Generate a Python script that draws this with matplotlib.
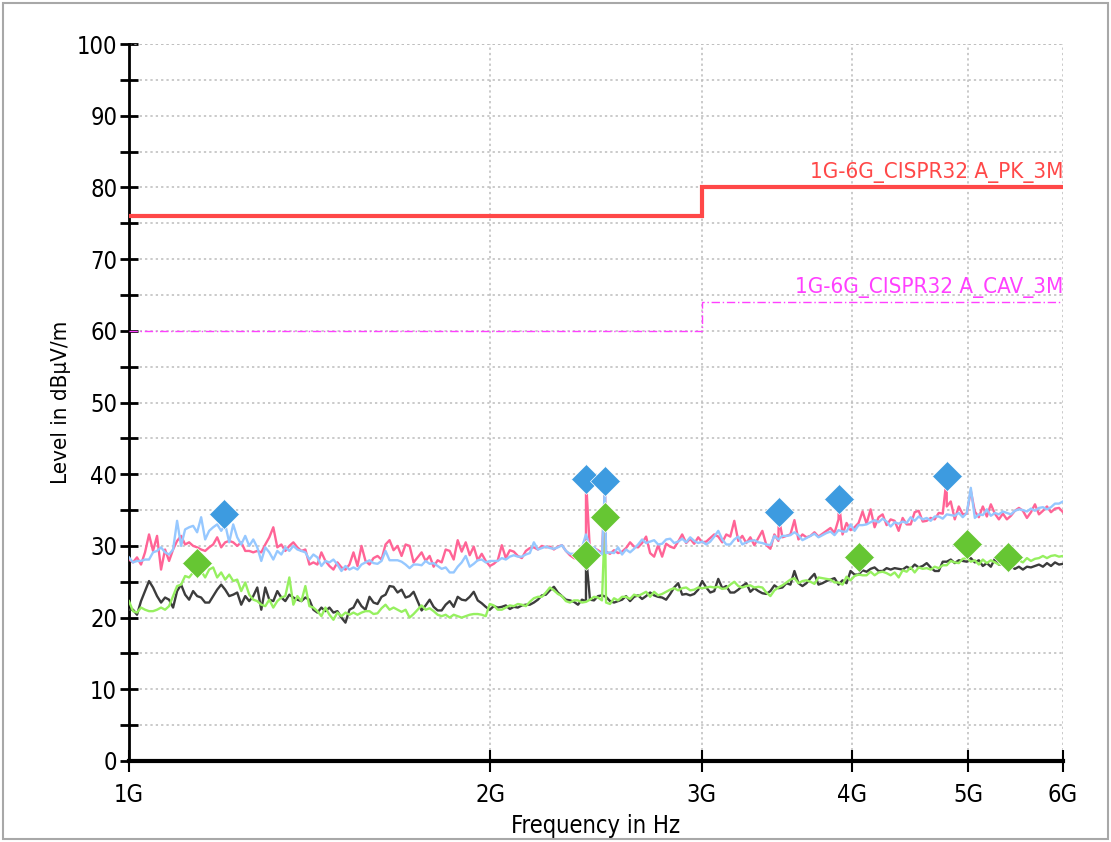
import numpy as np
import matplotlib
matplotlib.use('Agg')
import matplotlib.pyplot as plt
from matplotlib import font_manager
from matplotlib.patches import Rectangle
from matplotlib.ticker import FixedLocator, MultipleLocator, NullLocator

names = {f.name for f in font_manager.fontManager.ttflist}
FONT = 'Liberation Sans Narrow' if 'Liberation Sans Narrow' in names else 'DejaVu Sans'
plt.rcParams['font.family'] = [FONT, 'DejaVu Sans']
plt.rcParams['font.stretch'] = 'condensed'

# sweep points, GHz (log spaced 1..6 GHz)
freq_ghz = np.geomspace(1.0, 6.0, 234)

# peak, vertical (pink)
pk_v = [
    28.1, 27.7, 28.4, 27.4, 29.1, 31.6, 29.3, 31.4, 26.7, 29.5, 27.9, 29.5, 30.7, 31.4, 30.2, 30.5, 30.0, 29.8, 29.5, 29.3,
    29.8, 30.2, 31.2, 29.8, 30.5, 30.7, 30.5, 30.0, 30.5, 29.3, 29.3, 29.1, 29.3, 29.1, 30.2, 31.2, 32.6, 29.8, 30.2, 29.3,
    30.0, 30.5, 29.8, 29.3, 29.5, 27.4, 27.7, 27.4, 29.1, 27.9, 27.2, 26.7, 27.7, 27.0, 26.7, 27.4, 29.1, 27.2, 30.0, 27.9,
    27.4, 28.3, 28.6, 28.1, 30.2, 30.8, 29.4, 30.0, 28.6, 30.2, 30.0, 27.7, 28.4, 29.1, 27.9, 28.6, 27.1, 28.0, 27.7, 29.5,
    29.3, 28.1, 30.8, 29.2, 30.5, 28.7, 29.9, 28.0, 28.9, 27.9, 27.2, 27.5, 28.0, 30.1, 28.3, 29.4, 29.2, 28.6, 28.3, 29.3,
    29.7, 29.8, 29.5, 30.0, 29.8, 29.9, 29.5, 29.9, 30.1, 29.3, 28.7, 28.3, 28.2, 28.6, 29.1, 29.2, 29.7, 29.4,
    29.0, 29.2, 28.9, 29.4, 29.0, 29.2, 29.7, 30.5, 29.9, 29.8, 30.4, 31.3, 29.0, 28.5, 30.1, 28.5, 30.3, 29.9, 29.7, 30.6,
    31.6, 30.4, 31.0, 30.3, 31.2, 30.5, 30.6, 31.1, 31.6, 31.3, 30.5, 31.6, 31.3, 33.5, 30.7, 31.4, 30.4, 31.2, 30.1, 31.1,
    32.1, 30.1, 29.6, 31.6, 30.7, 31.2, 31.4, 31.6, 33.6, 30.9, 31.6, 31.2, 31.4, 31.9, 31.3, 31.7, 32.1, 32.5,
    31.8, 33.7, 31.6, 33.2, 32.2, 32.6, 33.2, 34.8, 33.1, 35.1, 32.6, 34.0, 34.4, 32.9, 33.7, 33.5, 32.1, 33.9, 33.0, 33.0,
    34.7, 34.9, 33.4, 33.5, 33.9, 33.7, 34.6, 34.5, 35.5, 36.2, 33.7, 35.5, 34.4, 34.5, 37.7, 34.8, 34.0, 35.5, 34.1, 35.8,
    34.5, 33.7, 34.5, 33.7, 34.2, 34.9, 35.3, 34.9, 33.9, 34.7, 35.8, 34.4, 34.9, 35.5, 34.7, 35.2, 35.3, 34.7,
]
# peak, horizontal (light blue)
pk_h = [
    28.4, 27.7, 27.9, 27.9, 28.1, 28.1, 29.1, 29.3, 29.8, 29.1, 28.8, 29.5, 33.5, 30.0, 32.3, 32.6, 32.8, 31.9, 34.0, 30.9,
    32.1, 32.6, 33.0, 32.1, 33.0, 30.5, 33.0, 31.2, 30.2, 31.4, 30.0, 30.9, 29.8, 27.9, 29.8, 29.1, 28.1, 29.3, 28.8, 29.8,
    29.3, 30.0, 29.5, 29.3, 29.1, 28.1, 28.8, 28.4, 27.2, 27.9, 27.7, 28.1, 27.4, 26.5, 27.2, 26.7, 27.0, 26.7, 27.4, 27.7,
    28.0, 27.6, 27.5, 27.9, 29.3, 28.0, 28.0, 28.0, 27.8, 27.4, 26.9, 27.4, 27.4, 27.3, 27.9, 27.5, 27.6, 27.2, 26.8, 27.0,
    26.3, 26.3, 27.1, 27.7, 28.6, 27.1, 27.5, 28.0, 28.1, 27.7, 27.9, 27.9, 27.9, 28.3, 28.1, 28.5, 28.7, 28.5, 28.5, 28.8,
    29.0, 30.5, 29.5, 29.7, 29.9, 29.7, 29.6, 29.8, 30.1, 29.3, 28.9, 28.9, 29.1, 29.8, 31.6, 29.8, 29.8, 29.2,
    28.8, 29.0, 29.1, 29.0, 29.8, 28.8, 29.5, 29.1, 29.6, 30.2, 30.9, 30.4, 30.6, 30.8, 30.2, 30.3, 30.9, 31.0, 30.4, 30.6,
    31.0, 30.5, 31.2, 30.7, 30.4, 30.6, 30.2, 30.6, 31.3, 32.1, 30.9, 30.2, 30.2, 30.9, 31.3, 30.2, 30.5, 30.7, 30.8, 30.5,
    30.4, 30.2, 30.1, 31.4, 30.9, 31.4, 31.4, 31.5, 31.9, 31.5, 30.8, 31.1, 31.4, 31.7, 31.2, 31.5, 31.8, 32.0,
    31.5, 32.2, 32.0, 32.0, 33.0, 32.1, 32.9, 32.9, 33.0, 33.3, 33.6, 33.3, 33.8, 33.4, 32.7, 33.3, 33.1, 33.4, 33.2, 34.0,
    33.5, 34.1, 33.7, 33.9, 33.5, 34.1, 34.1, 33.8, 34.4, 34.3, 34.2, 34.6, 34.0, 34.6, 38.1, 33.9, 34.4, 34.3, 35.1, 34.2,
    34.6, 34.4, 34.8, 34.6, 34.4, 34.9, 35.1, 35.0, 34.8, 35.2, 34.9, 35.3, 35.4, 35.1, 35.4, 35.9, 35.9, 36.2,
]
# average, vertical (dark grey)
av_v = [
    21.1, 21.1, 20.4, 22.3, 23.7, 25.1, 24.2, 23.0, 22.1, 22.8, 22.5, 21.4, 23.7, 24.6, 23.2, 22.5, 23.7, 23.0, 22.8, 22.1,
    22.1, 23.0, 23.9, 24.6, 23.9, 23.0, 23.2, 23.5, 21.8, 23.0, 22.3, 23.0, 24.2, 21.1, 24.2, 22.5, 22.3, 23.7, 22.8, 22.3,
    23.2, 22.8, 22.5, 22.3, 22.8, 22.5, 21.1, 20.7, 21.4, 20.9, 21.4, 20.7, 20.9, 20.0, 19.3, 21.1, 21.4, 22.5, 21.6, 21.1,
    22.9, 22.1, 21.9, 22.9, 23.2, 24.4, 24.3, 23.5, 23.9, 22.8, 23.0, 23.6, 22.3, 21.0, 21.7, 22.5, 21.5, 21.0, 21.0, 21.8,
    22.3, 21.5, 22.9, 22.5, 22.4, 22.9, 23.6, 22.4, 22.0, 21.5, 21.1, 21.6, 21.4, 21.5, 21.7, 21.2, 21.5, 21.4, 21.7, 21.8,
    21.8, 22.1, 22.5, 23.1, 23.2, 23.8, 24.3, 23.5, 23.0, 22.5, 22.4, 22.2, 21.8, 22.5, 22.3, 22.5, 22.4, 23.0,
    23.1, 22.9, 22.3, 22.1, 22.3, 22.5, 23.0, 22.3, 22.9, 23.1, 22.6, 23.0, 23.5, 23.1, 22.9, 22.8, 22.5, 23.3, 24.2, 24.8,
    23.2, 23.3, 23.1, 23.3, 23.9, 25.1, 24.2, 23.5, 23.7, 25.4, 24.1, 24.4, 23.5, 23.5, 23.9, 24.4, 24.8, 23.6, 24.1, 23.7,
    23.4, 23.3, 23.7, 24.5, 24.1, 24.2, 24.8, 24.6, 26.5, 24.8, 24.4, 24.8, 25.5, 26.1, 24.6, 24.8, 25.1, 25.3,
    25.5, 24.6, 25.2, 24.8, 26.5, 26.0, 26.0, 26.6, 26.4, 26.8, 27.0, 26.5, 26.5, 26.9, 26.7, 26.9, 26.8, 26.7, 27.1, 26.8,
    27.4, 27.0, 27.2, 27.6, 27.0, 26.5, 26.5, 27.8, 27.8, 28.1, 27.6, 28.0, 27.9, 27.8, 28.3, 27.7, 28.0, 27.2, 27.6, 27.1,
    28.2, 27.4, 27.5, 26.9, 27.1, 26.8, 27.1, 26.7, 27.1, 27.0, 27.2, 27.4, 27.1, 27.6, 27.2, 27.7, 27.4, 27.5,
]
# average, horizontal (light green)
av_h = [
    22.3, 20.9, 20.7, 21.4, 21.1, 20.9, 20.9, 21.1, 21.4, 21.1, 21.6, 23.0, 24.4, 24.6, 25.8, 25.6, 26.3, 27.2, 26.5, 25.6,
    26.7, 27.0, 25.6, 26.3, 25.3, 26.0, 25.1, 25.3, 23.7, 24.9, 23.2, 22.5, 22.3, 21.8, 21.6, 22.5, 21.4, 22.3, 22.8, 23.0,
    25.6, 21.8, 23.0, 22.3, 24.4, 21.6, 21.4, 20.9, 20.2, 21.4, 20.4, 19.7, 20.7, 20.2, 20.7, 20.4, 20.7, 20.4, 20.7, 20.9,
    20.9, 20.5, 20.6, 21.3, 21.8, 21.1, 21.4, 21.1, 20.8, 21.1, 20.0, 20.5, 21.1, 21.7, 21.1, 21.3, 20.9, 20.4, 20.2, 20.4,
    20.0, 20.4, 20.2, 20.0, 20.2, 20.4, 20.5, 20.5, 20.4, 20.2, 21.9, 21.7, 21.1, 21.1, 21.4, 21.7, 21.6, 21.9, 21.8, 21.6,
    22.2, 22.7, 22.9, 22.9, 23.5, 24.2, 23.8, 23.3, 23.0, 22.3, 22.1, 22.4, 22.4, 22.1, 22.2, 22.5, 22.9, 22.8,
    22.4, 22.1, 21.9, 22.7, 22.4, 22.9, 22.9, 22.6, 23.2, 23.0, 23.3, 23.6, 22.9, 23.6, 23.1, 23.3, 23.6, 23.9, 24.1, 23.8,
    24.1, 24.2, 23.8, 23.9, 24.2, 24.1, 24.2, 24.3, 24.2, 24.3, 24.0, 24.1, 24.6, 25.0, 24.4, 24.2, 24.4, 24.5, 24.2, 24.3,
    24.2, 23.5, 23.0, 23.8, 24.2, 24.5, 24.9, 25.3, 25.5, 24.8, 25.1, 25.2, 25.0, 24.7, 25.6, 25.5, 25.4, 25.3,
    24.9, 24.9, 24.6, 25.7, 25.2, 25.8, 26.0, 25.9, 25.9, 26.4, 25.9, 26.3, 26.4, 26.2, 25.9, 26.3, 25.6, 26.6, 26.4, 27.0,
    26.3, 27.0, 26.8, 26.9, 26.7, 27.1, 26.9, 27.3, 27.3, 27.9, 27.7, 27.6, 28.2, 28.3, 27.8, 28.0, 27.4, 28.1, 27.6, 28.0,
    27.7, 27.4, 27.5, 27.8, 27.5, 27.4, 28.0, 27.7, 28.3, 27.9, 28.2, 28.3, 28.6, 28.3, 28.6, 28.7, 28.5, 28.6,
]

# narrow spurs (GHz, dBuV/m)
pk_v_spur_f = [2.403, 2.492, 3.478, 3.903, 4.80]
pk_v_spur = [39.3, 38.5, 34.0, 36.2, 39.5]
pk_h_spur_f = [2.492]
pk_h_spur = [38.8]
av_v_spur_f = [2.403]
av_v_spur = [28.7]
av_h_spur_f = [2.492]
av_h_spur = [34.0]

# final measurement markers
pk_mark_f = [1.20, 2.403, 2.492, 3.478, 3.903, 4.80]
pk_mark = [34.4, 39.3, 39.0, 34.7, 36.5, 39.8]
av_mark_f = [1.14, 2.403, 2.492, 4.06, 4.99, 5.40]
av_mark = [27.6, 28.7, 34.0, 28.5, 30.3, 28.5]

# limit lines
lim_edges = [1.0, 3.0, 6.0]
lim_pk = [76, 80]
lim_cav = [60, 64]

xticks = [1, 2, 3, 4, 5, 6]
xtick_labels = ['1G', '2G', '3G', '4G', '5G', '6G']


def merge(vals, sf, sv):
    f = np.concatenate([freq_ghz, sf])
    v = np.concatenate([vals, sv])
    o = np.argsort(f)
    return f[o] * 1e9, v[o]


fig = plt.figure(figsize=(11.11, 8.42), dpi=100)
fig.patches.append(Rectangle((0.003, 0.004), 0.994, 0.993, transform=fig.transFigure,
                             fill=False, ec='#a8a8a8', lw=1.5))
ax = fig.add_axes([0.1161, 0.0962, 0.8407, 0.8515])
ax.set_xscale('log')

for vals, sf, sv, col in [(av_v, av_v_spur_f, av_v_spur, '#3c3c3c'),
                          (av_h, av_h_spur_f, av_h_spur, '#96f060'),
                          (pk_v, pk_v_spur_f, pk_v_spur, '#ff6496'),
                          (pk_h, pk_h_spur_f, pk_h_spur, '#96c8ff')]:
    f, v = merge(vals, sf, sv)
    ax.plot(f, v, color=col, lw=1.7, zorder=3)

ax.stairs(lim_pk, np.array(lim_edges) * 1e9, baseline=None, color='#ff4848', lw=3, zorder=4)
ax.stairs(lim_cav, np.array(lim_edges) * 1e9, baseline=None, color='#ff40ff', lw=1,
          ls=(0, (6, 2, 1, 2)), zorder=4)
ax.text(6e9, 80.6, '1G-6G_CISPR32 A_PK_3M', ha='right', va='bottom', color='#ff4848', fontsize=16)
ax.text(6e9, 64.6, '1G-6G_CISPR32 A_CAV_3M', ha='right', va='bottom', color='#ff40ff', fontsize=16)

ax.plot(np.array(pk_mark_f) * 1e9, pk_mark, 'D', color='#3d9be0', ms=15, mec='white', mew=0.5, zorder=6)
ax.plot(np.array(av_mark_f) * 1e9, av_mark, 'D', color='#66c633', ms=15, mec='white', mew=0.5, zorder=6)

ax.set_xlim(1e9, 6e9)
ax.set_ylim(0, 100)
ax.xaxis.set_major_locator(FixedLocator([x * 1e9 for x in xticks]))
ax.xaxis.set_minor_locator(NullLocator())
ax.set_xticklabels(xtick_labels)
ax.yaxis.set_major_locator(MultipleLocator(10))
ax.yaxis.set_minor_locator(MultipleLocator(5))

ax.grid(True, axis='y', which='both', ls=(0, (1.5, 2)), color='#bcbcbc', lw=1.1)
ax.grid(True, axis='x', which='major', ls=(0, (1.5, 2)), color='#bcbcbc', lw=1.1)
ax.axhline(100, ls=(0, (1.5, 2)), color='#bcbcbc', lw=1.1)

for s in ['top', 'right']:
    ax.spines[s].set_visible(False)
ax.spines['left'].set_linewidth(2)
ax.spines['bottom'].set_linewidth(3)
ax.tick_params(axis='y', which='both', direction='inout', length=13, width=2, labelsize=17, pad=2)
ax.tick_params(axis='x', which='major', direction='inout', length=16, width=1.5, labelsize=17, pad=8)

ax.set_ylabel('Level in dBμV/m', fontsize=16, labelpad=4)
ax.set_xlabel('Frequency in Hz', fontsize=17, labelpad=5)

fig.savefig('out.png', dpi=100)
